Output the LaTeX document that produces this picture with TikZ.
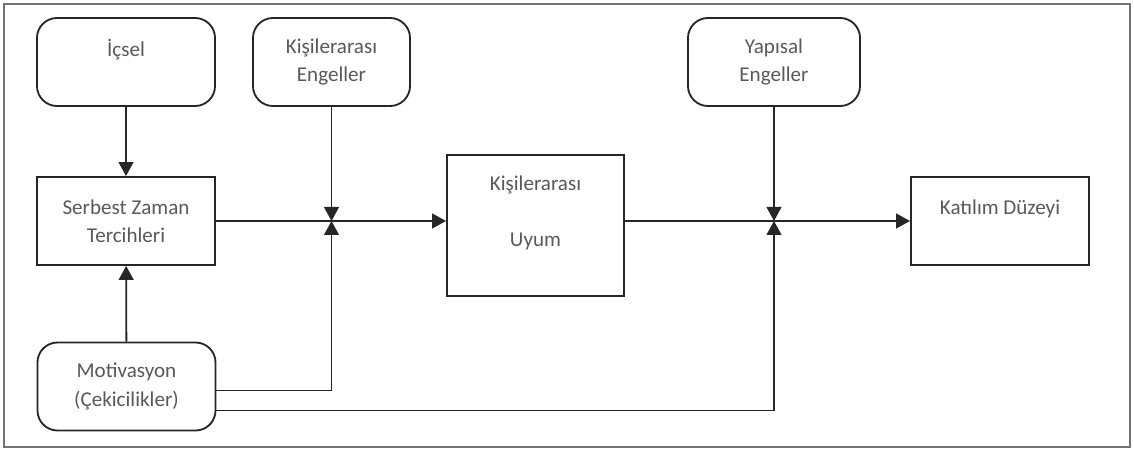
\documentclass[tikz,border=0pt]{standalone}
\usepackage{fontspec}
\setmainfont{Carlito}
\usetikzlibrary{arrows.meta}

\tikzset{
  kutu/.style={draw=black!85, line width=1.3pt, minimum width=4.45cm, minimum height=2.2cm,
    align=center, text=black!65, font=\fontsize{15}{20}\selectfont, inner sep=0pt},
  yuvarlak/.style={kutu, rounded corners=0.5cm},
  ok/.style={-{Triangle[length=0.35cm,width=0.37cm]}, line width=1.3pt, draw=black!85},
}

\begin{document}
\begin{tikzpicture}[x=0.025cm,y=-0.025cm]
		\useasboundingbox (0,0) rectangle (1134,451);
		\draw[black!55, line width=0.8pt] (4,4) rectangle (1130,447);

		% Kutular
		\node[yuvarlak] (icsel) at (126,62) {İçsel\\\mbox{}};
		\node[yuvarlak, minimum width=3.925cm] (kengel) at (331.5,62) {Kişilerarası\\Engeller};
		\node[yuvarlak, minimum width=4.3cm] (yengel) at (774,62) {Yapısal\\Engeller};
		\node[kutu] (serbest) at (126,221) {Serbest Zaman\\Tercihleri};
		\node[kutu, minimum width=4.425cm, minimum height=3.525cm] (uyum) at (535.5,225.5)
			{Kişilerarası\\\mbox{}\\Uyum\\\mbox{}};
		\node[kutu] (katilim) at (1000,221) {Katılım Düzeyi\\\mbox{}};
		\node[yuvarlak] (motiv) at (126.5,386.5) {Motivasyon\\(Çekicilikler)};

		% Birleşme noktaları
		\coordinate (d1) at (kengel.south |- serbest.east);
		\coordinate (d2) at (yengel.south |- serbest.east);

		% Oklar
		\draw[ok] (icsel) -- (serbest);
		\draw[ok] (motiv) -- (serbest);
		\draw[ok] (kengel) -- (d1);
		\draw[ok] (yengel) -- (d2);
		\draw[ok] (serbest.east) -- (uyum.west |- serbest.east);
		\draw[ok] (uyum.east |- katilim.west) -- (katilim.west);
		\draw[ok] ([yshift=-0.1cm]motiv.east) -| (d1);
		\draw[ok] ([yshift=-0.6cm]motiv.east) -| (d2);
	\end{tikzpicture}
\end{document}
